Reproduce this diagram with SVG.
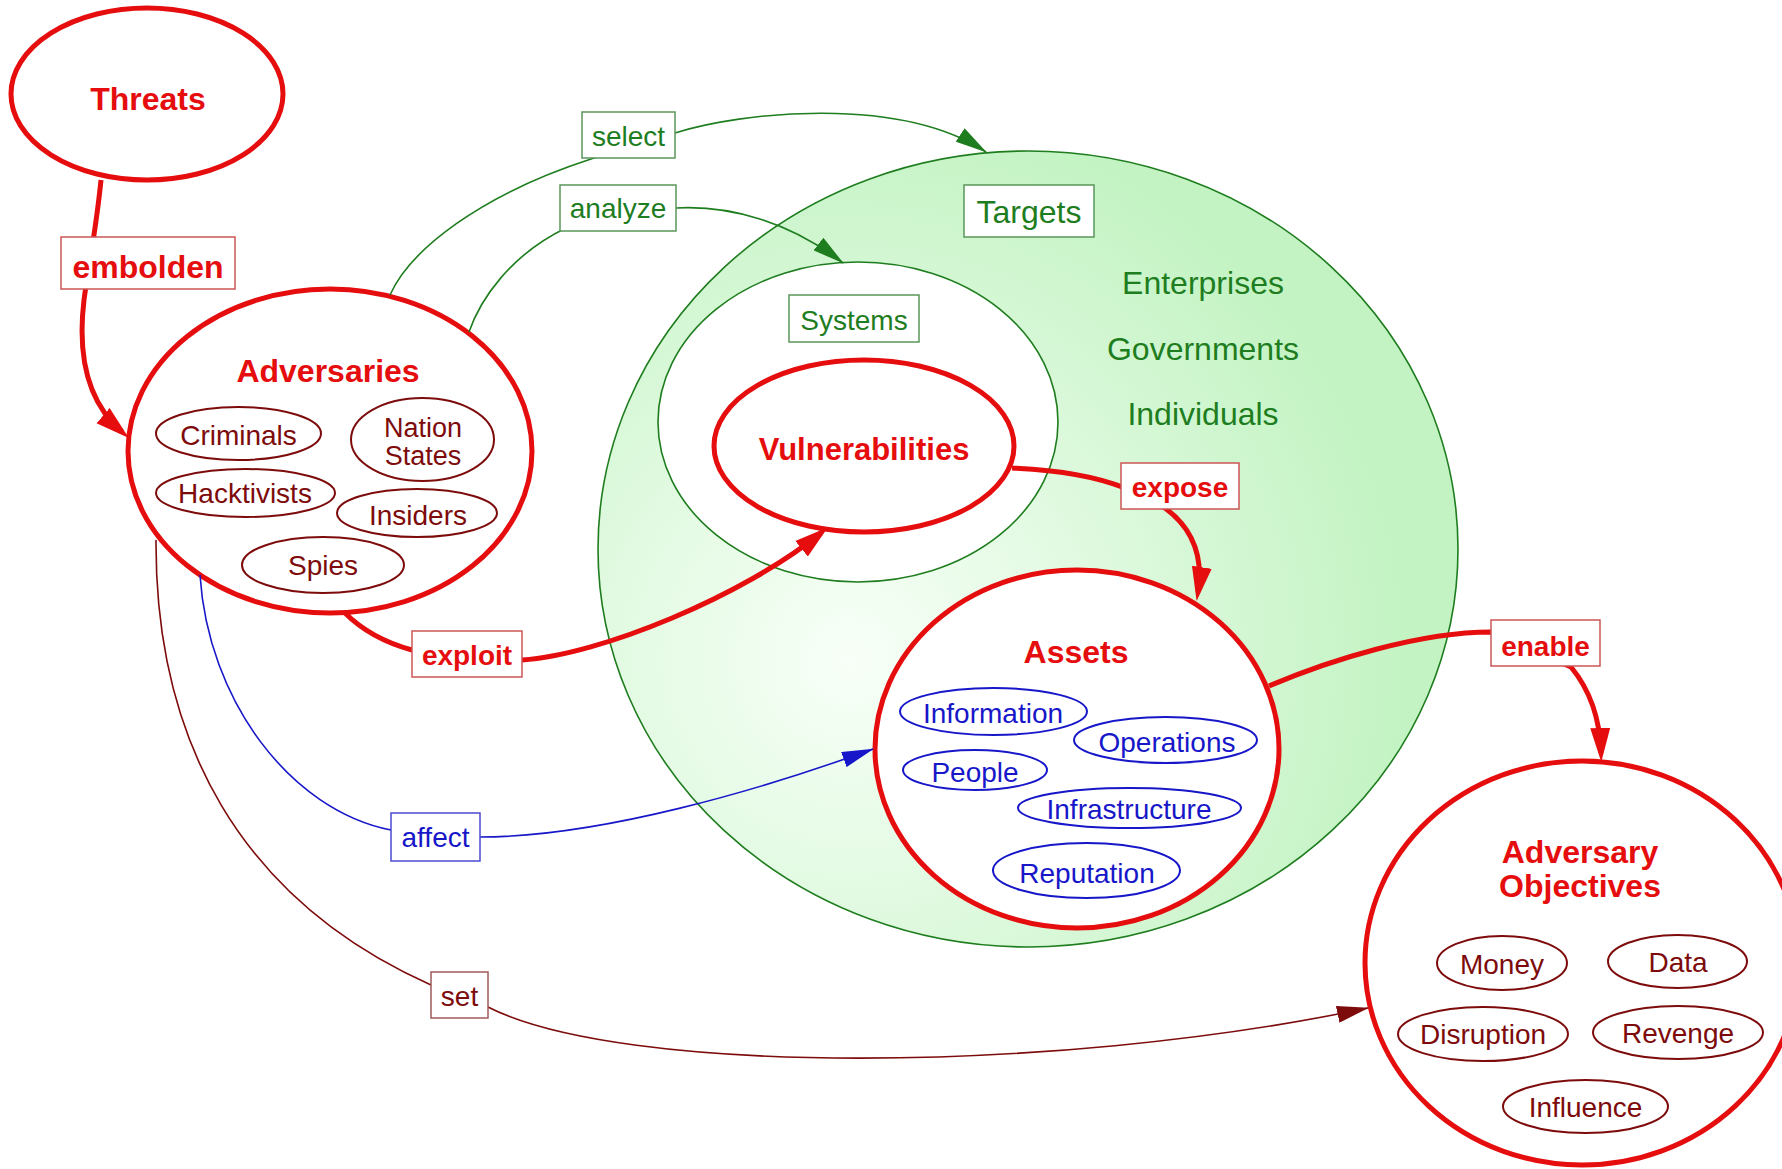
<svg xmlns="http://www.w3.org/2000/svg" width="1782" height="1169" viewBox="0 0 1782 1169">
  <defs>
    <radialGradient id="targetFill" gradientUnits="userSpaceOnUse" cx="850" cy="660" r="560">
      <stop offset="0" stop-color="#f8fff8"/>
      <stop offset="0.25" stop-color="#ebfceb"/>
      <stop offset="1" stop-color="#c3f3c3"/>
    </radialGradient>
    <marker id="ahRed" markerUnits="userSpaceOnUse" viewBox="0 0 34 22" markerWidth="34" markerHeight="22" refX="25" refY="11" orient="auto">
      <path d="M0,1 L34,11 L0,21 z" fill="#e50d0d"/>
    </marker>
    <marker id="ahGreen" markerUnits="userSpaceOnUse" viewBox="0 0 32 16" markerWidth="32" markerHeight="16" refX="31" refY="8" orient="auto">
      <path d="M0,0 L32,8 L0,16 z" fill="#1e7d1e"/>
    </marker>
    <marker id="ahBlue" markerUnits="userSpaceOnUse" viewBox="0 0 32 16" markerWidth="32" markerHeight="16" refX="31" refY="8" orient="auto">
      <path d="M0,0 L32,8 L0,16 z" fill="#1717c9"/>
    </marker>
    <marker id="ahMaroon" markerUnits="userSpaceOnUse" viewBox="0 0 32 17" markerWidth="32" markerHeight="17" refX="31" refY="8.5" orient="auto">
      <path d="M0,0 L32,8.5 L0,17 z" fill="#7d0b0b"/>
    </marker>
  </defs>
  <style>
    text { font-family: "Liberation Sans", Arial, sans-serif; text-anchor: middle; }
    .main { fill: #ffffff; stroke: #e50d0d; stroke-width: 5; }
    .mainText { fill: #e50d0d; font-weight: bold; font-size: 32px; }
    .sub { fill: none; stroke: #7d0b0b; stroke-width: 2; }
    .subText { fill: #7d0b0b; font-size: 28px; }
    .subB { fill: none; stroke: #1717c9; stroke-width: 2; }
    .subBText { fill: #1717c9; font-size: 28px; }
    .greenText { fill: #1e7d1e; font-size: 32px; }
    .box { fill: #ffffff; stroke-width: 1.5; }
    .edgeRed { fill: none; stroke: #e50d0d; stroke-width: 5; marker-end: url(#ahRed); }
    .edgeGreen { fill: none; stroke: #1e7d1e; stroke-width: 1.6; }
    .edgeBlue { fill: none; stroke: #1717c9; stroke-width: 1.6; }
    .edgeMaroon { fill: none; stroke: #7d0b0b; stroke-width: 1.6; }
  </style>

  <rect width="1782" height="1169" fill="#ffffff"/>

  <!-- Targets: the large shaded region holding systems and assets -->
  <g id="targets">
    <ellipse cx="1028" cy="549" rx="430" ry="398" fill="url(#targetFill)" stroke="#1e7d1e" stroke-width="1.6"/>
    <rect class="box" x="964" y="185" width="130" height="52" stroke="#5a965a"/>
    <text class="greenText" x="1029" y="223">Targets</text>
    <text class="greenText" x="1203" y="294">Enterprises</text>
    <text class="greenText" x="1203" y="360">Governments</text>
    <text class="greenText" x="1203" y="425">Individuals</text>
  </g>

  <g id="systems">
    <ellipse cx="858" cy="422" rx="200" ry="160" fill="#ffffff" stroke="#1e7d1e" stroke-width="1.6"/>
    <rect class="box" x="789" y="295" width="130" height="47" stroke="#5a965a"/>
    <text class="greenText" x="854" y="330" style="font-size:28px">Systems</text>
  </g>

  <g id="vulnerabilities">
    <ellipse class="main" cx="864" cy="446" rx="150" ry="86"/>
    <text class="mainText" x="864" y="460" style="font-size:31px">Vulnerabilities</text>
  </g>

  <g id="threats">
    <ellipse class="main" cx="147" cy="94" rx="136" ry="86"/>
    <text class="mainText" x="148" y="110">Threats</text>
  </g>

  <g id="adversaries">
    <ellipse class="main" cx="330" cy="451" rx="202" ry="162"/>
    <text class="mainText" x="328" y="382">Adversaries</text>
    <g id="adv-criminals">
      <ellipse class="sub" cx="238.5" cy="433.5" rx="82.5" ry="26.5"/>
      <text class="subText" x="238.5" y="445">Criminals</text>
    </g>
    <g id="adv-nation-states">
      <ellipse class="sub" cx="422.5" cy="439.5" rx="71.5" ry="41.5"/>
      <text class="subText" x="423" y="437" style="font-size:27px">Nation</text>
      <text class="subText" x="423" y="465" style="font-size:27px">States</text>
    </g>
    <g id="adv-hacktivists">
      <ellipse class="sub" cx="245.5" cy="493" rx="89.5" ry="24"/>
      <text class="subText" x="245" y="503">Hacktivists</text>
    </g>
    <g id="adv-insiders">
      <ellipse class="sub" cx="417" cy="513" rx="80" ry="24"/>
      <text class="subText" x="418" y="525">Insiders</text>
    </g>
    <g id="adv-spies">
      <ellipse class="sub" cx="323" cy="565" rx="81" ry="28"/>
      <text class="subText" x="323" y="575">Spies</text>
    </g>
  </g>

  <g id="assets">
    <ellipse class="main" cx="1077" cy="749" rx="202" ry="179"/>
    <text class="mainText" x="1076" y="663">Assets</text>
    <g id="asset-information">
      <ellipse class="subB" cx="993.5" cy="711.5" rx="93.5" ry="23.5"/>
      <text class="subBText" x="993" y="723">Information</text>
    </g>
    <g id="asset-operations">
      <ellipse class="subB" cx="1165.5" cy="740" rx="91.5" ry="23"/>
      <text class="subBText" x="1167" y="752">Operations</text>
    </g>
    <g id="asset-people">
      <ellipse class="subB" cx="975" cy="770" rx="72" ry="20"/>
      <text class="subBText" x="975" y="782">People</text>
    </g>
    <g id="asset-infrastructure">
      <ellipse class="subB" cx="1129.5" cy="808" rx="111.5" ry="20"/>
      <text class="subBText" x="1129" y="819">Infrastructure</text>
    </g>
    <g id="asset-reputation">
      <ellipse class="subB" cx="1086.5" cy="870.5" rx="93.5" ry="27.5"/>
      <text class="subBText" x="1087" y="883">Reputation</text>
    </g>
  </g>

  <g id="adversary-objectives">
    <ellipse class="main" cx="1582" cy="963" rx="217" ry="202"/>
    <text class="mainText" x="1580" y="863">Adversary</text>
    <text class="mainText" x="1580" y="897">Objectives</text>
    <g id="obj-money">
      <ellipse class="sub" cx="1502" cy="963" rx="65" ry="27"/>
      <text class="subText" x="1502" y="974">Money</text>
    </g>
    <g id="obj-data">
      <ellipse class="sub" cx="1677.5" cy="961.5" rx="69.5" ry="26.5"/>
      <text class="subText" x="1678" y="972">Data</text>
    </g>
    <g id="obj-disruption">
      <ellipse class="sub" cx="1483" cy="1034" rx="85" ry="27"/>
      <text class="subText" x="1483" y="1044">Disruption</text>
    </g>
    <g id="obj-revenge">
      <ellipse class="sub" cx="1678" cy="1032.5" rx="85" ry="26.5"/>
      <text class="subText" x="1678" y="1043">Revenge</text>
    </g>
    <g id="obj-influence">
      <ellipse class="sub" cx="1585.5" cy="1106.5" rx="82.5" ry="26.5"/>
      <text class="subText" x="1585.5" y="1117">Influence</text>
    </g>
  </g>

  <!-- Connectors with their labels -->
  <g id="connectors">
    <!-- Threats embolden Adversaries -->
    <path class="edgeRed" d="M101,180 C 96,230 88,270 84,300 C 78,350 85,400 122,432"/>
    <!-- Adversaries select Targets -->
    <path class="edgeGreen" d="M390,295 C 410,250 480,195 591,159 L675,133"/>
    <path class="edgeGreen" d="M675,133 C 740,112 900,95 986,152" marker-end="url(#ahGreen)"/>
    <!-- Adversaries analyze Systems -->
    <path class="edgeGreen" d="M469,332 C 480,300 510,255 566,228 L676,208"/>
    <path class="edgeGreen" d="M676,208 C 730,205 790,222 843,263" marker-end="url(#ahGreen)"/>
    <!-- Vulnerabilities expose Assets -->
    <path class="edgeRed" d="M1012,468 C 1060,470 1100,478 1125,488 L1165,508 C 1195,530 1203,560 1198,592"/>
    <!-- Adversaries exploit Vulnerabilities -->
    <path class="edgeRed" d="M345,613 C 365,633 390,644 412,650 L522,660 C 600,655 743,596 821,533"/>
    <!-- Adversaries affect Assets -->
    <path class="edgeBlue" d="M200,575 C 208,700 290,810 391,830 L480,837 C 600,837 760,790 873,749" marker-end="url(#ahBlue)"/>
    <!-- Adversaries set Adversary Objectives -->
    <path class="edgeMaroon" d="M156,540 C 155,740 240,900 431,985 L488,1007 C 620,1075 1050,1075 1368,1008" marker-end="url(#ahMaroon)"/>
    <!-- Assets enable Adversary Objectives -->
    <path class="edgeRed" d="M1269,686 C 1330,660 1420,632 1491,632 L1571,667 C 1590,690 1600,720 1601,753"/>

    <g id="label-embolden">
      <rect class="box" x="61" y="237" width="174" height="52" stroke="#cc5555"/>
      <text class="mainText" x="148" y="278">embolden</text>
    </g>
    <g id="label-select">
      <rect class="box" x="582" y="112" width="93" height="46" stroke="#5a965a"/>
      <text class="greenText" x="628.5" y="146" style="font-size:28px">select</text>
    </g>
    <g id="label-analyze">
      <rect class="box" x="560" y="185" width="116" height="46" stroke="#5a965a"/>
      <text class="greenText" x="618" y="218" style="font-size:28px">analyze</text>
    </g>
    <g id="label-expose">
      <rect class="box" x="1121" y="463" width="118" height="46" stroke="#cc5555"/>
      <text class="mainText" x="1180" y="497" style="font-size:28px">expose</text>
    </g>
    <g id="label-exploit">
      <rect class="box" x="412" y="631" width="110" height="46" stroke="#cc5555"/>
      <text class="mainText" x="467" y="665" style="font-size:28px">exploit</text>
    </g>
    <g id="label-affect">
      <rect class="box" x="391" y="813" width="89" height="48" stroke="#4b4bd0"/>
      <text class="subBText" x="435.5" y="847">affect</text>
    </g>
    <g id="label-set">
      <rect class="box" x="431" y="972" width="57" height="46" stroke="#a05a5a"/>
      <text class="subText" x="459.5" y="1006">set</text>
    </g>
    <g id="label-enable">
      <rect class="box" x="1491" y="620" width="109" height="46" stroke="#cc5555"/>
      <text class="mainText" x="1545.5" y="656" style="font-size:28px">enable</text>
    </g>
  </g>
</svg>
